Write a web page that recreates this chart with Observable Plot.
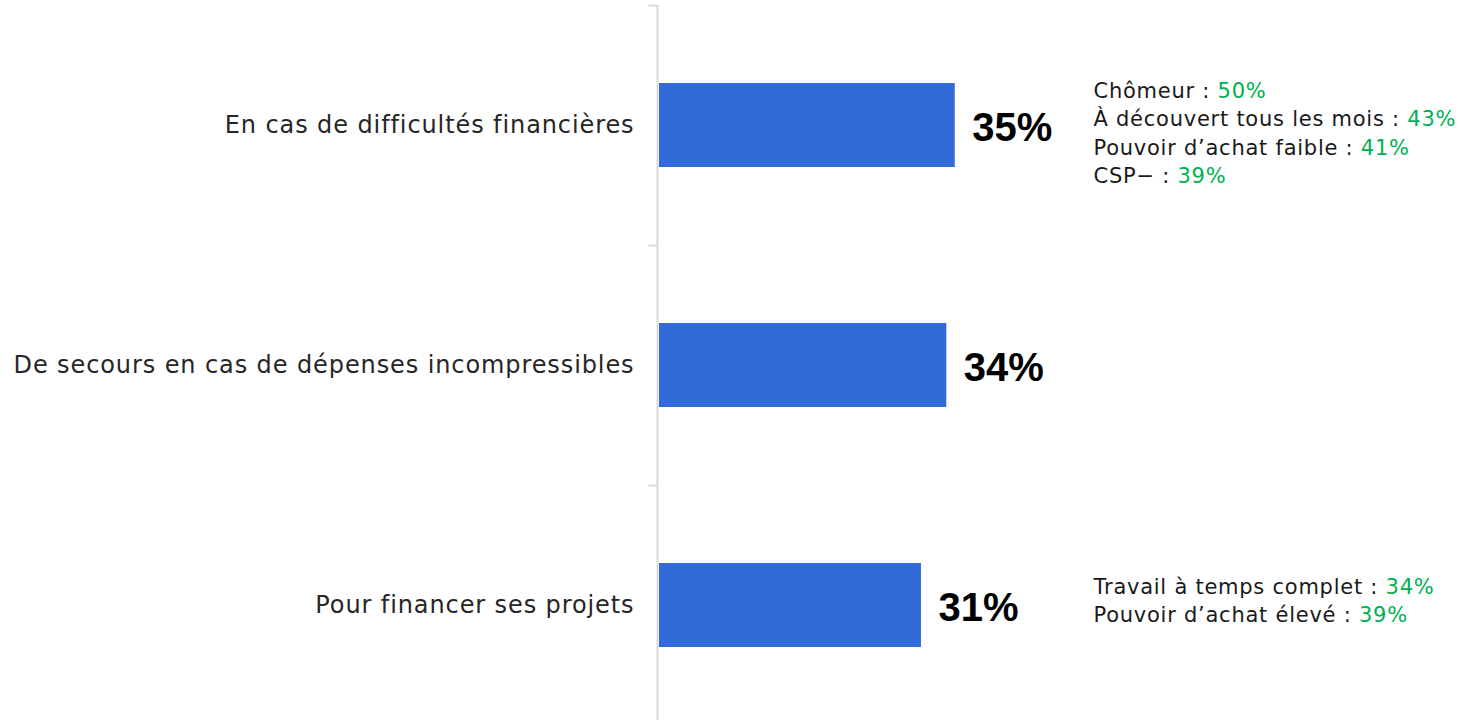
<!DOCTYPE html>
<html><head><meta charset="utf-8">
<script src="https://cdn.jsdelivr.net/npm/d3@7"></script>
<script src="https://cdn.jsdelivr.net/npm/@observablehq/plot@0.6"></script>
<style>html,body{margin:0;padding:0;background:#fff;overflow:hidden}</style>
</head><body><div id="chart"></div>
<script>
// ---- data ----
const categories = [
  "En cas de difficultés financières",
  "De secours en cas de dépenses incompressibles",
  "Pour financer ses projets"
];
const values = [35, 34, 31];
const noteCategoryIndex = [0, 0, 0, 0, 2, 2];
const noteLabels = [
  "Chômeur",
  "À découvert tous les mois",
  "Pouvoir d’achat faible",
  "CSP−",
  "Travail à temps complet",
  "Pouvoir d’achat élevé"
];
const noteValues = [50, 43, 41, 39, 34, 39];

// ---- layout / style ----
const W = 1458, H = 725;
const marginLeft = 659;
const pxPerPct = 8.45;
const xMax = (W - marginLeft) / pxPerPct;
const step = (H - 5) / categories.length;
const barH = 84;
const blockStart = {0: -28, 2: -12};
const lineGap = 28.5;
const noteX = (1093 - marginLeft) / pxPerPct;
const axisColor = "#d9d9d9";
const fontFam = "DejaVu Sans, sans-serif";

const data = categories.map((c, i) => ({category: c, value: values[i]}));
const notes = noteLabels.map((l, i) => ({
  category: categories[noteCategoryIndex[i]], cat: noteCategoryIndex[i], label: l, value: noteValues[i]
}));
notes.forEach((n, i) => { n.line = notes.slice(0, i).filter(m => m.cat === n.cat).length; });

const noteMarks = notes.map((n, i) => Plot.text([n], {
  x: () => noteX, y: "category", text: d => d.label + " : ",
  textAnchor: "start", lineAnchor: "bottom",
  dy: blockStart[n.cat] + n.line * lineGap,
  fontSize: 21, fill: "#1a1a1a", fontFamily: fontFam,
  ariaDescription: "note-" + i
}));

const svg = Plot.plot({
  width: W, height: H,
  marginLeft, marginRight: 0, marginTop: 5, marginBottom: 0,
  style: {fontFamily: fontFam, background: "#fff", overflow: "visible"},
  x: {domain: [0, xMax], axis: null},
  y: {domain: categories, padding: 0, label: null},
  marks: [
    Plot.axisY({tickSize: 0, tickPadding: 25, fontSize: 24, fill: "#262626", fontFamily: fontFam, label: null}),
    Plot.ruleX([0], {dx: -2, stroke: axisColor, strokeWidth: 2}),
    Plot.ruleY(categories, {y: d => d, x1: -1, x2: 0, dx: -2, dy: -step / 2, stroke: axisColor, strokeWidth: 2}),
    Plot.barX(data, {x: "value", y: "category", fill: "#336AD9", insetTop: (step - barH) / 2, insetBottom: (step - barH) / 2}),
    Plot.text(data, {x: "value", y: "category", text: d => d.value + "%", dx: 17, dy: 3, textAnchor: "start",
      fontSize: 40, fontWeight: "bold", fill: "#000", fontFamily: "Liberation Sans, Arial, sans-serif"}),
    ...noteMarks
  ]
});

// axis tick labels: widen letter spacing to match reference typeface
d3.select(svg).selectAll("text").filter(function() { return categories.includes(this.textContent); })
  .style("letter-spacing", "0.9px");

notes.forEach((n, i) => {
  d3.select(svg).selectAll(`g[aria-description="note-${i}"] text`).each(function() {
    d3.select(this).style("letter-spacing", "0.75px");
    d3.select(this).append("tspan").attr("fill", "#00B050").text(n.value + "%");
  });
});

document.getElementById("chart").appendChild(svg);
</script>
</body></html>
